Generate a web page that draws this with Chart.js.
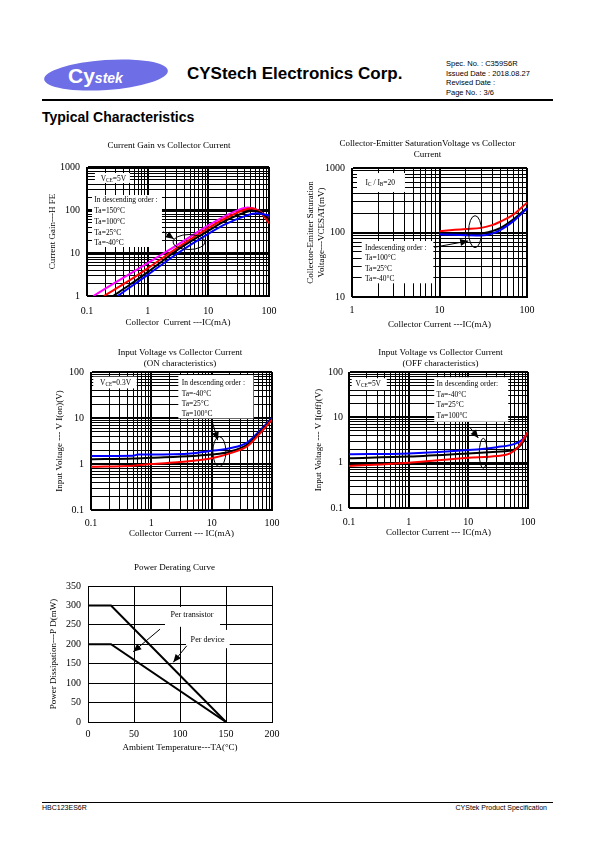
<!DOCTYPE html>
<html>
<head>
<meta charset="utf-8">
<script src="https://cdn.jsdelivr.net/npm/chart.js@4.4.1/dist/chart.umd.min.js"></script>
<style>
  body { margin: 0; background: #fff; }
  #page { position: relative; width: 595px; height: 842px; overflow: hidden; font-family: "Liberation Sans", Arial, sans-serif; color: #000; }
  .abs { position: absolute; white-space: nowrap; line-height: 1; }
  canvas { position: absolute; }
</style>
</head>
<body>
<div id="page">
  <div class="abs" style="left:44px;top:60px;width:124px;height:30px;background:#6e6ee6;border-radius:50%;transform:rotate(-4deg);"></div>
  <div class="abs" style="left:68px;top:65px;color:#fff;font-weight:bold;font-size:21px;">Cy<span style="font-size:14px;font-style:italic;">stek</span></div>
  <div class="abs" style="left:187px;top:65px;font-weight:bold;font-size:17px;">CYStech Electronics Corp.</div>
  <div class="abs" style="left:446px;top:59px;font-size:7.5px;line-height:9.5px;">Spec. No. : C359S6R<br>Issued Date : 2018.08.27<br>Revised Date :<br>Page No. : 3/6</div>
  <div class="abs" style="left:42px;top:99px;width:511px;height:1.5px;background:#000;"></div>
  <div class="abs" style="left:42px;top:110px;font-weight:bold;font-size:14px;">Typical Characteristics</div>
  <div class="abs" style="left:42px;top:801.5px;width:511px;height:1px;background:#000;"></div>
  <div class="abs" style="left:42px;top:804px;font-size:7px;">HBC123ES6R</div>
  <div class="abs" style="right:48px;top:804px;font-size:7px;">CYStek Product Specification</div>
</div>
<script>
// ---- Current gain vs collector current (VCE=5V) ----
const hfeDecX = [0.1, 1, 10, 100];
const hfeDecY = [1, 10, 100, 1000];
const hfeIc150 = [0.127, 0.3, 1, 3, 10, 20, 30, 45, 60, 80, 100];
const hfe150   = [1, 2.1, 5.8, 15, 44, 75, 98, 114, 104, 82, 64];
const hfeIc100 = [0.19, 0.5, 1, 3.4, 10, 20, 35, 52, 70, 85, 100];
const hfe100   = [1, 2.3, 4.4, 14.5, 38, 66, 95, 110, 92, 68, 49];
const hfeIc25  = [0.27, 0.5, 1, 3.4, 10, 20, 35, 55, 75, 100];
const hfe25    = [1, 1.8, 3.6, 12.9, 33, 58, 82, 96, 85, 62];
const hfeIcM40 = [0.32, 1, 3.4, 10, 20, 40, 63, 80, 100];
const hfeM40   = [1, 3.1, 10.7, 28, 48, 72, 84, 80, 75];

// ---- VCE(sat) vs collector current (IC/IB=20) ----
const satDecX = [1, 10, 100];
const satDecY = [10, 100, 1000];
const satIc    = [10, 15, 20, 30, 40, 50, 70, 100];
const sat100   = [105, 110, 113, 118, 130, 148, 190, 290];
const sat25    = [95, 95, 95, 96, 105, 118, 160, 240];
const satM40   = [94, 92, 91, 90, 96, 110, 150, 235];

// ---- Input voltage ON (VCE=0.3V) ----
const vinDec = [0.1, 1, 10, 100];
const onIcM40 = [0.1, 0.5, 0.6, 1, 5, 10, 20, 40, 60, 100];
const onM40   = [1.5, 1.52, 1.6, 1.6, 1.72, 1.93, 2.2, 3.0, 5.0, 10];
const onIc25  = [0.1, 0.5, 1, 5, 10, 20, 40, 60, 100];
const on25    = [1.27, 1.32, 1.37, 1.5, 1.6, 1.85, 2.7, 4.6, 9.5];
const onIc100 = [0.1, 0.5, 1, 3, 5, 10, 20, 40, 60, 100];
const on100   = [0.87, 0.92, 1.0, 1.1, 1.18, 1.33, 1.7, 2.5, 4.3, 9.2];

// ---- Input voltage OFF (VCE=5V) ----
const offIcM40 = [0.1, 1, 10, 30, 60, 80, 100];
const offM40   = [1.53, 1.6, 1.9, 2.2, 2.6, 3.2, 4.6];
const offIc25  = [0.1, 1, 10, 30, 60, 80, 100];
const off25    = [1.25, 1.36, 1.6, 1.75, 1.95, 2.7, 4.8];
const offIc100 = [0.1, 1, 10, 30, 50, 70, 100];
const off100   = [0.84, 1.0, 1.29, 1.4, 1.6, 2.3, 4.8];

// ---- Power derating ----
const tempTicks = [0, 50, 100, 150, 200];
const pdTicks = [0, 50, 100, 150, 200, 250, 300, 350];
const tempA = [0, 25, 150];
const pdDevice = [300, 300, 0];
const pdTransistor = [200, 200, 0];

const SERIF = '"Liberation Serif", "Times New Roman", serif';
Chart.defaults.font.family = SERIF;
Chart.defaults.color = '#000';
Chart.defaults.animation = false;
Chart.defaults.plugins.legend.display = false;
Chart.defaults.plugins.tooltip.enabled = false;

function logGrid(dec) {
  const t = [];
  for (let i = 0; i < dec.length - 1; i++)
    for (let m = 1; m < 10; m++) t.push(+(m * dec[i]).toPrecision(6));
  t.push(dec[dec.length - 1]);
  return t;
}

function axis(type, ticks, o) {
  const major = type === 'logarithmic' ? ticks : [];
  const all = type === 'logarithmic' ? logGrid(ticks) : ticks;
  return {
    type, min: ticks[0], max: ticks[ticks.length - 1],
    afterBuildTicks: s => { s.ticks = all.map(v => ({ value: v })); },
    afterFit: s => { if (s.isHorizontal()) s.height = o.size; else s.width = o.size; },
    ticks: { autoSkip: false, maxRotation: 0, minRotation: 0, padding: o.tickPad, font: { size: 10 },
      callback: v => (type !== 'logarithmic' || major.includes(v)) ? String(v) : '' },
    grid: { color: '#000', drawTicks: false,
      lineWidth: c => (c.tick && major.includes(c.tick.value)) ? 2 : 1 },
    border: { color: '#000', width: 1 },
    title: { display: true, text: o.title, font: { size: 9, lineHeight: '11px' }, padding: o.titlePad }
  };
}

function drawRich(ctx, str, x, y, align, size, sx) {
  const parts = str.split(/(_\{[^}]*\})/).filter(Boolean).map(p =>
    p.startsWith('_{') ? { s: p.slice(2, -1), f: (size * 0.7) + 'px ' + SERIF, dy: 1 } : { s: p, f: size + 'px ' + SERIF, dy: 0 });
  let w = 0;
  parts.forEach(p => { ctx.font = p.f; w += ctx.measureText(p.s).width; });
  ctx.save();
  ctx.translate(x, y);
  ctx.scale(sx, 1);
  let cx = align === 'center' ? -w / 2 : 0;
  ctx.fillStyle = '#000';
  ctx.textAlign = 'left';
  ctx.textBaseline = 'alphabetic';
  parts.forEach(p => {
    ctx.font = p.f;
    ctx.fillText(p.s, cx, size * 0.33 + p.dy);
    cx += ctx.measureText(p.s).width;
  });
  ctx.restore();
}

// chart heading, centred on the canvas
function headingPlugin(lines, firstY) {
  return {
    id: 'heading',
    afterDraw(chart) {
      const ctx = chart.ctx;
      ctx.save();
      ctx.font = '9px ' + SERIF;
      ctx.fillStyle = '#000';
      ctx.textAlign = 'center';
      ctx.textBaseline = 'middle';
      lines.forEach((t, i) => ctx.fillText(t, chart.width / 2, firstY + i * 11));
      ctx.restore();
    }
  };
}

function notesPlugin(n) {
  return {
    id: 'notes',
    beforeDatasetsDraw(chart) {
      const { ctx, scales: { x, y } } = chart;
      ctx.save();
      ctx.fillStyle = '#fff';
      (n.boxes || []).forEach(b => {
        const l = x.getPixelForValue(b.x[0]), r = x.getPixelForValue(b.x[1]);
        const t = y.getPixelForValue(b.y[0]), bt = y.getPixelForValue(b.y[1]);
        ctx.fillRect(l, t, r - l, bt - t);
      });
      (n.texts || []).forEach(tx => {
        const px = x.getPixelForValue(tx.x), py = y.getPixelForValue(tx.y);
        tx.lines.forEach((ln, i) => drawRich(ctx, ln, px, py + i * (tx.gap || 0), tx.align, tx.size || 9, tx.sx || 0.83));
      });
      ctx.restore();
    },
    afterDatasetsDraw(chart) {
      const { ctx, scales: { x, y } } = chart;
      ctx.save();
      ctx.strokeStyle = '#000';
      ctx.fillStyle = '#000';
      ctx.lineWidth = 1;
      (n.rings || []).forEach(r => {
        ctx.beginPath();
        ctx.ellipse(x.getPixelForValue(r.x), y.getPixelForValue(r.y), r.rx, r.ry, 0, 0, Math.PI * 2);
        ctx.stroke();
      });
      (n.arrows || []).forEach(a => {
        const x0 = x.getPixelForValue(a.from[0]), y0 = y.getPixelForValue(a.from[1]);
        const x1 = x.getPixelForValue(a.to[0]), y1 = y.getPixelForValue(a.to[1]);
        const ang = Math.atan2(y1 - y0, x1 - x0);
        ctx.beginPath(); ctx.moveTo(x0, y0); ctx.lineTo(x1, y1); ctx.stroke();
        ctx.beginPath();
        ctx.moveTo(x1, y1);
        ctx.lineTo(x1 - 8 * Math.cos(ang) + 3.5 * Math.sin(ang), y1 - 8 * Math.sin(ang) - 3.5 * Math.cos(ang));
        ctx.lineTo(x1 - 8 * Math.cos(ang) - 3.5 * Math.sin(ang), y1 - 8 * Math.sin(ang) + 3.5 * Math.cos(ang));
        ctx.closePath(); ctx.fill();
      });
      ctx.restore();
    }
  };
}

function series(xs, ys, color, smooth) {
  return {
    data: xs.map((v, i) => ({ x: v, y: ys[i] })),
    borderColor: color, borderWidth: 2, pointRadius: 0,
    cubicInterpolationMode: smooth ? 'monotone' : 'default', tension: 0
  };
}

function makeChart(box, o) {
  const cv = document.createElement('canvas');
  cv.width = box.w; cv.height = box.h;
  cv.style.left = box.left + 'px'; cv.style.top = box.top + 'px';
  document.getElementById('page').appendChild(cv);
  new Chart(cv, {
    type: 'line',
    data: { datasets: o.datasets },
    options: {
      responsive: false,
      layout: { padding: { top: o.padTop, right: o.padRight } },
      scales: { x: o.x, y: o.y }
    },
    plugins: [notesPlugin(o.notes), headingPlugin(o.title, o.titleY)]
  });
}

makeChart({ left: 30, top: 135, w: 278, h: 200 }, {
  title: ['Current Gain vs Collector Current'], titleY: 11, padTop: 32, padRight: 39,
  x: axis('logarithmic', hfeDecX, { size: 39, tickPad: 9, title: 'Collector  Current ---IC(mA)', titlePad: { bottom: 6.5 } }),
  y: axis('logarithmic', hfeDecY, { size: 57, tickPad: 7, title: 'Current Gain---H FE', titlePad: { top: 17 } }),
  datasets: [
    series(hfeIcM40, hfeM40, '#0000ff', true),
    series(hfeIc25, hfe25, '#000000', true),
    series(hfeIc100, hfe100, '#ff0000', true),
    series(hfeIc150, hfe150, '#ff00ff', true)
  ],
  notes: {
    boxes: [{ x: [0.135, 0.51], y: [725, 425] }, { x: [0.121, 1.72], y: [223, 13.8] }],
    texts: [
      { x: 0.168, y: 555, lines: ['V_{CE}=5V'] },
      { x: 0.132, y: 177, gap: 10.75, lines: ['In descending order :', 'Ta=150°C', 'Ta=100°C', 'Ta=25°C', 'Ta=-40°C'] }
    ],
    arrows: [{ from: [1.81, 31.3], to: [2.71, 21.2] }],
    rings: [{ x: 4.8, y: 18, rx: 16, ry: 7.5 }]
  }
});

makeChart({ left: 295, top: 135, w: 265, h: 200 }, {
  title: ['Collector-Emitter SaturationVoltage vs Collector', 'Current'], titleY: 8.5, padTop: 33, padRight: 33,
  x: axis('logarithmic', satDecX, { size: 38, tickPad: 7, title: 'Collector Current ---IC(mA)', titlePad: { bottom: 4.5 } }),
  y: axis('logarithmic', satDecY, { size: 57, tickPad: 7, title: ['Collector-Emitter Saturation', 'Voltage---VCESAT(mV)'], titlePad: { top: 10.5 } }),
  datasets: [
    series(satIc, satM40, '#0000ff', true),
    series(satIc, sat25, '#000000', true),
    series(satIc, sat100, '#ff0000', true)
  ],
  notes: {
    boxes: [{ x: [1.14, 4.03], y: [836, 425] }, { x: [1.29, 8.5], y: [73.8, 16.3] }],
    texts: [
      { x: 1.43, y: 614, lines: ['I_{C} / I_{B}=20'] },
      { x: 1.41, y: 60.3, gap: 10.55, lines: ['Indescending order :', 'Ta=100°C', 'Ta=25°C', 'Ta=-40°C'] }
    ],
    arrows: [{ from: [8.7, 59], to: [21.3, 73.8] }],
    rings: [{ x: 25.5, y: 103, rx: 6.5, ry: 16 }]
  }
});

makeChart({ left: 30, top: 340, w: 300, h: 210 }, {
  title: ['Input Voltage vs Collector Current', '(ON characteristics)'], titleY: 12.5, padTop: 32, padRight: 58,
  x: axis('logarithmic', vinDec, { size: 40, tickPad: 7, title: 'Collector Current --- IC(mA)', titlePad: { bottom: 10.5 } }),
  y: axis('logarithmic', vinDec, { size: 61, tickPad: 7, title: 'Input Voltage --- V I(on)(V)', titlePad: { top: 24.5 } }),
  datasets: [
    series(onIc100, on100, '#ff0000', true),
    series(onIc25, on25, '#000000', true),
    series(onIcM40, onM40, '#0000ff', true)
  ],
  notes: {
    boxes: [{ x: [0.109, 0.573], y: [79, 44] }, { x: [2.8, 49.2], y: [86, 9.8] }],
    texts: [
      { x: 0.141, y: 59.7, lines: ['V_{CE}=0.3V'] },
      { x: 3.19, y: 59.7, gap: 10.3, lines: ['In descending order :', 'Ta=-40°C', 'Ta=25°C', 'Ta=100°C'] }
    ],
    arrows: [{ from: [10.0, 9.05], to: [12.6, 3.3] }],
    rings: [{ x: 13.4, y: 1.85, rx: 6.5, ry: 15 }]
  }
});

makeChart({ left: 295, top: 340, w: 291, h: 210 }, {
  title: ['Input Voltage vs Collector Current', '(OFF characteristics)'], titleY: 12.5, padTop: 32, padRight: 58,
  x: axis('logarithmic', vinDec, { size: 42, tickPad: 8, title: 'Collector Current --- IC(mA)', titlePad: { bottom: 11.8 } }),
  y: axis('logarithmic', vinDec, { size: 54, tickPad: 6, title: 'Input Voltage --- V I(off)(V)', titlePad: { top: 17.8 } }),
  datasets: [
    series(offIc100, off100, '#ff0000', true),
    series(offIc25, off25, '#000000', true),
    series(offIcM40, offM40, '#0000ff', true)
  ],
  notes: {
    boxes: [{ x: [0.111, 0.43], y: [73, 40] }, { x: [2.68, 46.6], y: [76.7, 8.0] }],
    texts: [
      { x: 0.129, y: 56.6, lines: ['V_{CE}=5V'] },
      { x: 2.94, y: 56.6, gap: 10.6, lines: ['In descending order:', 'Ta=-40°C', 'Ta=25°C', 'Ta=100°C'] }
    ],
    arrows: [{ from: [10.6, 6.0], to: [14.7, 3.5] }],
    rings: [{ x: 17.8, y: 1.61, rx: 4, ry: 15 }]
  }
});

makeChart({ left: 30, top: 555, w: 289, h: 205 }, {
  title: ['Power Derating Curve'], titleY: 12.3, padTop: 31, padRight: 47,
  x: axis('linear', tempTicks, { size: 38, tickPad: 6.3, title: 'Ambient Temperature---TA(°C)', titlePad: { bottom: 6.8 } }),
  y: axis('linear', pdTicks, { size: 58, tickPad: 7, title: 'Power Dissipation---P D(mW)', titlePad: { top: 17.8 } }),
  datasets: [
    series(tempA, pdDevice, '#000000', false),
    series(tempA, pdTransistor, '#000000', false)
  ],
  notes: {
    boxes: [{ x: [83.7, 143.5], y: [296, 245] }, { x: [106.5, 154], y: [237, 190] }],
    texts: [
      { x: 113, y: 278, align: 'center', sx: 0.9, lines: ['Per transistor'] },
      { x: 130, y: 213, align: 'center', sx: 0.9, lines: ['Per device'] }
    ],
    arrows: [{ from: [78.3, 239], to: [49.2, 181] }, { from: [107.3, 196], to: [92.7, 153.6] }]
  }
});
</script>
</body>
</html>
